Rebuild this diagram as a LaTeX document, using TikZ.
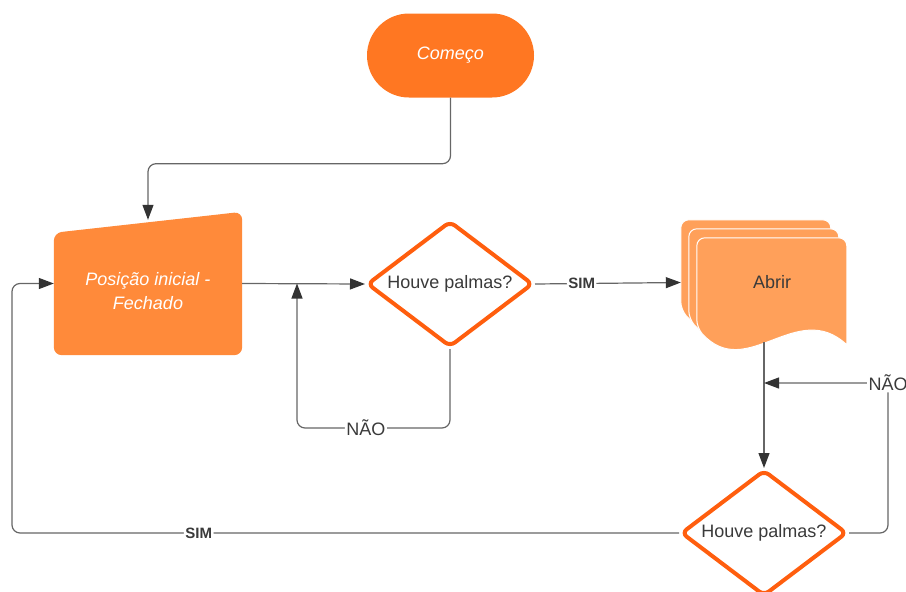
\documentclass[tikz,border=0pt]{standalone}
\usepackage{fontspec}
\setmainfont{Liberation Sans}
\usetikzlibrary{shapes.geometric,arrows.meta,backgrounds}

\definecolor{laranjainicio}{HTML}{FF7722}
\definecolor{laranjaentrada}{HTML}{FF8A3A}
\definecolor{laranjadoc}{HTML}{FFA05A}
\definecolor{laranjaborda}{HTML}{FF5E0E}
\definecolor{linha}{HTML}{666666}
\definecolor{seta}{HTML}{333333}
\definecolor{textocinza}{HTML}{3A3A3A}

\tikzset{
	inicio/.style={fill=laranjainicio, text=white, font=\itshape\fontsize{18}{22}\selectfont, rounded corners=42pt, minimum width=167pt, minimum height=84pt, inner sep=0pt},
	entrada/.style={minimum width=188pt, minimum height=143pt, inner sep=0pt},
	textoentrada/.style={text=white, font=\itshape\fontsize{18}{24}\selectfont, align=center},
	decisao/.style={diamond, aspect=1.4, draw=laranjaborda, line width=4pt, fill=white, rounded corners=6pt, minimum width=166pt, minimum height=126pt, inner sep=0pt, text=textocinza, font=\fontsize{18}{22}\selectfont},
	documentos/.style={minimum width=166pt, minimum height=125pt, inner sep=0pt},
	textodoc/.style={text=textocinza, font=\fontsize{18}{22}\selectfont},
	folha/.style={fill=laranjadoc, draw=white, line width=1pt},
	fluxo/.style={draw=linha, line width=1.2pt, rounded corners=8pt, -{Triangle[length=15pt, width=11pt, color=seta]}},
	rotulo/.style={fill=white, text=textocinza, inner sep=1.5pt, font=\fontsize{18}{22}\selectfont},
	rotulosim/.style={rotulo, font=\bfseries\fontsize{15}{18}\selectfont}
}

\begin{document}
\begin{tikzpicture}[x=1pt, y=-1pt]
	\useasboundingbox (0,0) rectangle (906,592);

	\node (comeco) [inicio] at (450.5,55.5) {Começo};
	\node (inicial) [entrada, label={[textoentrada, yshift=-8pt]center:{Posição inicial -\\Fechado}}] at (148,283.5) {};
	\node (decisao1) [decisao] at (450,284) {Houve palmas?};
	\node (abrir) [documentos, label={[textodoc, xshift=8pt]center:Abrir}] at (764,282.5) {};
	\node (decisao2) [decisao] at (764,533) {Houve palmas?};

	\coordinate (laco1) at (297,428);
	\coordinate (retorno1) at (297,283.5);
	\coordinate (laco2) at (888,383);
	\coordinate (retorno2) at (764,383);
	\coordinate (margem) at (12,400);

	% entrada manual e pilha de documentos
	\begin{scope}[on background layer]
		\fill[laranjaentrada, rounded corners=8pt] (inicial.south west) -- ([yshift=-21pt]inicial.north west) -- (inicial.north east) -- (inicial.south east) -- cycle;
		\foreach \dx/\dy in {0/0, 8/9, 16/18}
			\filldraw[folha, shift={(abrir.north west)}, shift={(\dx,\dy)}] (150,107) [rounded corners=8pt] -- (150,0) -- (0,0) -- (0,90) [sharp corners] .. controls (50,145) and (100,60) .. (150,107) -- cycle;
	\end{scope}

	\draw[fluxo] (comeco.south) -- ++(0,66) -| ([yshift=-8pt]inicial.north);
	\draw[fluxo] (inicial.east) -- (decisao1.west);
	\draw[fluxo] (decisao1.south) |- node[rotulo, pos=0.775] {NÃO} (laco1) -- (retorno1);
	\draw[fluxo] (decisao1.east) -- node[rotulosim, pos=0.32] {SIM} (abrir.west);
	\draw[fluxo] ([yshift=3pt]abrir.south) -- (decisao2.north);
	\draw[fluxo] (decisao2.east) -| (laco2) node[rotulo] {NÃO} -- (retorno2);
	\draw[fluxo] (decisao2.west) -| node[rotulosim, pos=0.36] {SIM} (margem) |- (inicial.west);
\end{tikzpicture}
\end{document}
